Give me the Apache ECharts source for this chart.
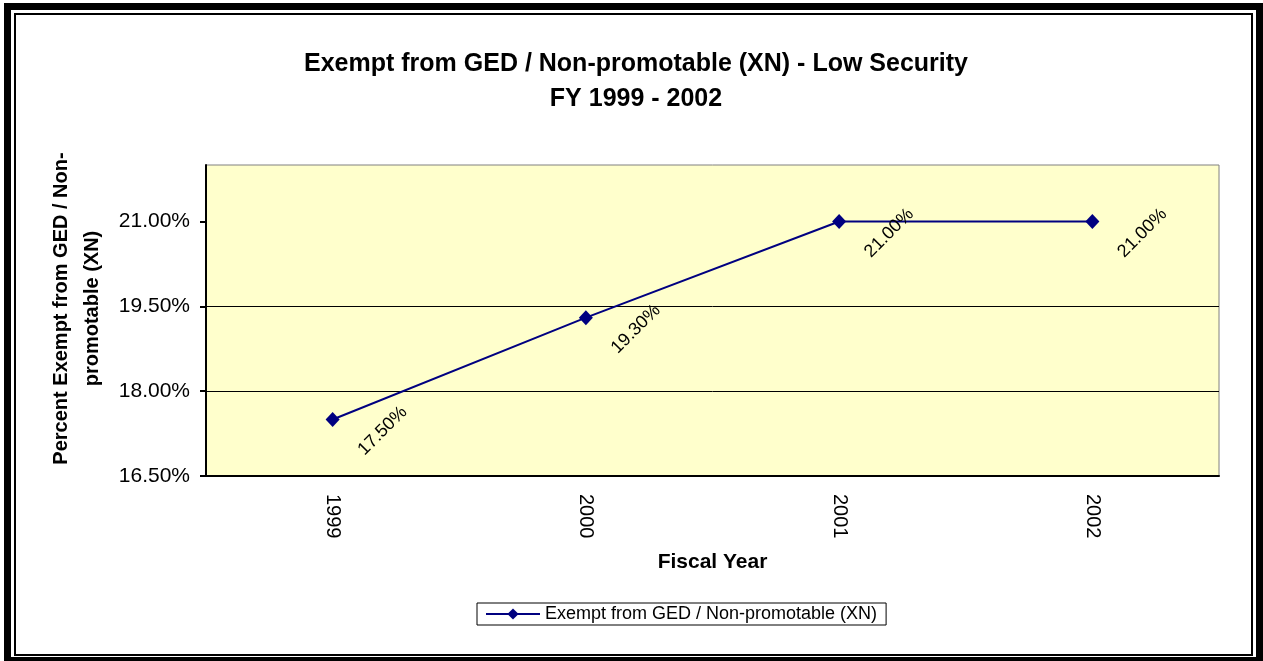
<!DOCTYPE html>
<html>
<head>
<meta charset="utf-8">
<script src="https://cdn.jsdelivr.net/npm/echarts@6/dist/echarts.min.js"></script>
<style>
  html, body { margin: 0; padding: 0; background: #fff; }
  #chart { position: absolute; left: 0; top: 0; width: 1263px; height: 661px; }
  /* double frame round the chart */
  .frame-outer { position: absolute; left: 4px; top: 3px; width: 1245px; height: 647px; border: 7px solid #000; pointer-events: none; }
  .frame-inner { position: absolute; left: 14px; top: 13px; width: 1235px; height: 639px; border: 2px solid #000; pointer-events: none; }
</style>
</head>
<body>
<div id="chart"></div>
<div class="frame-outer"></div>
<div class="frame-inner"></div>
<script>
const years = ['1999', '2000', '2001', '2002'];
const xnPercent = [17.5, 19.3, 21.0, 21.0];
const yTicks = [16.5, 18.0, 19.5, 21.0];
const seriesName = 'Exempt from GED / Non-promotable (XN)';

const font = 'Liberation Sans, Arial, sans-serif';
const chart = echarts.init(document.getElementById('chart'));

chart.setOption({
  animation: false,
  title: {
    text: 'Exempt from GED / Non-promotable (XN) - Low Security\nFY 1999 - 2002',
    left: 636,
    top: 47,
    textAlign: 'center',
    padding: 0,
    textStyle: { fontFamily: font, fontSize: 25, fontWeight: 'bold', color: '#000', lineHeight: 35 }
  },
  legend: {
    left: 477,
    top: 603,
    padding: [2, 9, 2, 8],
    borderColor: '#000',
    borderWidth: 1,
    itemWidth: 54,
    itemHeight: 14,
    lineStyle: { width: 2 },
    textStyle: { fontFamily: font, fontSize: 18, color: '#000' },
    data: [seriesName]
  },
  grid: {
    left: 206,
    top: 165,
    right: 44,
    bottom: 185,
    show: true,
    backgroundColor: '#FFFFCC',
    borderColor: '#808080',
    borderWidth: 1
  },
  xAxis: {
    type: 'category',
    data: years,
    boundaryGap: true,
    name: 'Fiscal Year',
    nameLocation: 'middle',
    nameGap: 76,
    nameTextStyle: { fontFamily: font, fontSize: 21, fontWeight: 'bold', color: '#000' },
    axisLine: { lineStyle: { color: '#000', width: 2 } },
    axisTick: { length: 6, lineStyle: { color: '#000', width: 2 } },
    axisLabel: { rotate: -90, margin: 18, fontFamily: font, fontSize: 20, color: '#000' }
  },
  yAxis: {
    type: 'value',
    min: 16.5,
    max: 22,
    interval: 1.5,
    name: 'Percent Exempt from GED / Non-\npromotable (XN)',
    nameLocation: 'middle',
    nameGap: 90,
    nameTextStyle: { fontFamily: font, fontSize: 20, fontWeight: 'bold', color: '#000', lineHeight: 31, padding: [0, 0, 0, 24] },
    axisLine: { show: true, lineStyle: { color: '#000', width: 2 } },
    axisTick: { show: true, length: 6, lineStyle: { color: '#000', width: 2 }, customValues: yTicks },
    axisLabel: {
      margin: 16,
      fontFamily: font,
      fontSize: 21,
      color: '#000',
      customValues: yTicks,
      formatter: v => v.toFixed(2) + '%'
    },
    splitLine: { show: true, showMinLine: false, showMaxLine: false, lineStyle: { color: '#000', width: 1 } }
  },
  series: [{
    name: seriesName,
    type: 'line',
    data: xnPercent,
    symbol: 'diamond',
    symbolSize: [14, 15],
    lineStyle: { color: '#000080', width: 2 },
    itemStyle: { color: '#000080' },
    label: {
      show: true,
      position: [57, 19],
      rotate: 45,
      align: 'center',
      verticalAlign: 'middle',
      fontFamily: font,
      fontSize: 18,
      color: '#000',
      formatter: p => p.value.toFixed(2) + '%'
    }
  }]
});
</script>
</body>
</html>
